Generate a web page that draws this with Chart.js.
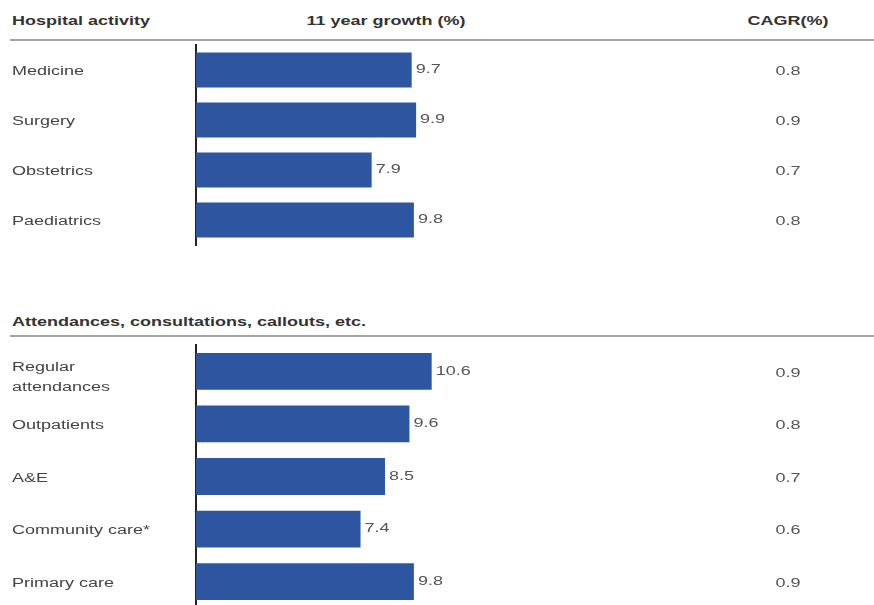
<!DOCTYPE html>
<html>
<head>
<meta charset="utf-8">
<script src="https://cdn.jsdelivr.net/npm/chart.js@4"></script>
<style>
  html, body { margin: 0; padding: 0; background: #fff; overflow: hidden; }
  body { width: 874px; height: 605px; position: relative; font-family: "Liberation Sans", Arial, sans-serif; }
  .hdr { position: absolute; font-size: 12px; font-weight: bold; color: #333; white-space: nowrap; }
  .hdr span { display: inline-block; transform: scaleX(1.5); }
  .left span { transform-origin: left center; }
  .mid span { transform-origin: center center; }
  .rule { position: absolute; left: 10px; right: 0; height: 0; border-top: 2px solid #a4a4a4; }
  canvas { position: absolute; left: 0; }
</style>
</head>
<body>
<div class="hdr left" style="left:12px; top:14px;"><span>Hospital activity</span></div>
<div class="hdr mid" style="left:386px; top:14px; transform:translateX(-50%);"><span>11 year growth (%)</span></div>
<div class="hdr mid" style="left:788px; top:14px; transform:translateX(-50%);"><span>CAGR(%)</span></div>
<div class="rule" style="top:39px;"></div>

<div class="hdr left" style="left:12px; top:315px;"><span>Attendances, consultations, callouts, etc.</span></div>
<div class="rule" style="top:335px;"></div>

<div id="wrap1" style="position:absolute; left:0; top:0; width:874px; height:250px;"><canvas id="hospital-chart"></canvas></div>
<div id="wrap2" style="position:absolute; left:0; top:300px; width:874px; height:320px;"><canvas id="attend-chart"></canvas></div>

<script>
// Hospital activity
const hospitalLabels = ['Medicine', 'Surgery', 'Obstetrics', 'Paediatrics'];
const hospitalGrowth = [9.7, 9.9, 7.9, 9.8];
const hospitalCagr = [0.8, 0.9, 0.7, 0.8];

// Attendances, consultations, callouts, etc.
const attendLabels = [['Regular', 'attendances'], 'Outpatients', 'A&E', 'Community care*', 'Primary care'];
const attendGrowth = [10.6, 9.6, 8.5, 7.4, 9.8];
const attendCagr = [0.9, 0.8, 0.7, 0.6, 0.9];

const BAR_COLOR = '#2e55a0';
const LABEL_COLOR = '#444';
const VALUE_COLOR = '#555';
const FONT = '"Liberation Sans", Arial, sans-serif';
const STRETCH = 1.5; // the source text is wide

// Draw text stretched horizontally
function wideText(ctx, text, x, y, align) {
    ctx.save();
    ctx.translate(x, y);
    ctx.scale(STRETCH, 1);
    ctx.textAlign = align;
    ctx.fillText(text, 0, 0);
    ctx.restore();
}

// Category labels, value labels and the CAGR column
const labelPlugin = {
    id: 'valueLabels',
    afterDatasetsDraw(chart, args, opts) {
        const ctx = chart.ctx;
        const meta = chart.getDatasetMeta(0);
        const yScale = chart.scales.y;
        ctx.save();
        ctx.font = '12px ' + FONT;
        ctx.textBaseline = 'middle';

        // category labels
        ctx.fillStyle = LABEL_COLOR;
        chart.data.labels.forEach(function(label, i) {
            const y = yScale.getPixelForTick(i);
            if (Array.isArray(label)) {
                wideText(ctx, label[0], 12, y - 4, 'left');
                wideText(ctx, label[1], 12, y + 16, 'left');
            } else {
                wideText(ctx, label, 12, y + 2, 'left');
            }
        });

        // values and CAGR
        ctx.fillStyle = VALUE_COLOR;
        meta.data.forEach(function(bar, i) {
            wideText(ctx, chart.data.datasets[0].data[i].toFixed(1), bar.x + 4, bar.y, 'left');
            wideText(ctx, opts.cagr[i].toFixed(1), 788, bar.y + 2, 'center');
        });
        ctx.restore();
    }
};

function makeChart(id, labels, values, cagr, padTop, padBottom) {
    const ctx = document.getElementById(id).getContext('2d');
    return new Chart(ctx, {
        type: 'bar',
        data: {
            labels: labels,
            datasets: [{
                data: values,
                backgroundColor: BAR_COLOR,
                borderWidth: 0,
                barPercentage: 0.7,
                categoryPercentage: 1.0
            }]
        },
        options: {
            indexAxis: 'y',
            responsive: true,
            maintainAspectRatio: false,
            animation: false,
            layout: {
                padding: { left: 10, right: 11, top: padTop, bottom: padBottom }
            },
            plugins: {
                legend: { display: false },
                tooltip: { enabled: false },
                valueLabels: { cagr: cagr }
            },
            scales: {
                x: {
                    display: false,
                    min: 0,
                    max: 30
                },
                y: {
                    afterFit: function(scale) { scale.width = 186; },
                    grid: { display: false, drawTicks: false },
                    border: { display: true, color: '#222', width: 2 },
                    ticks: { display: false }
                }
            }
        },
        plugins: [labelPlugin]
    });
}

makeChart('hospital-chart', hospitalLabels, hospitalGrowth, hospitalCagr, 45, 5);
makeChart('attend-chart', attendLabels, attendGrowth, attendCagr, 45, 12);
</script>
</body>
</html>
